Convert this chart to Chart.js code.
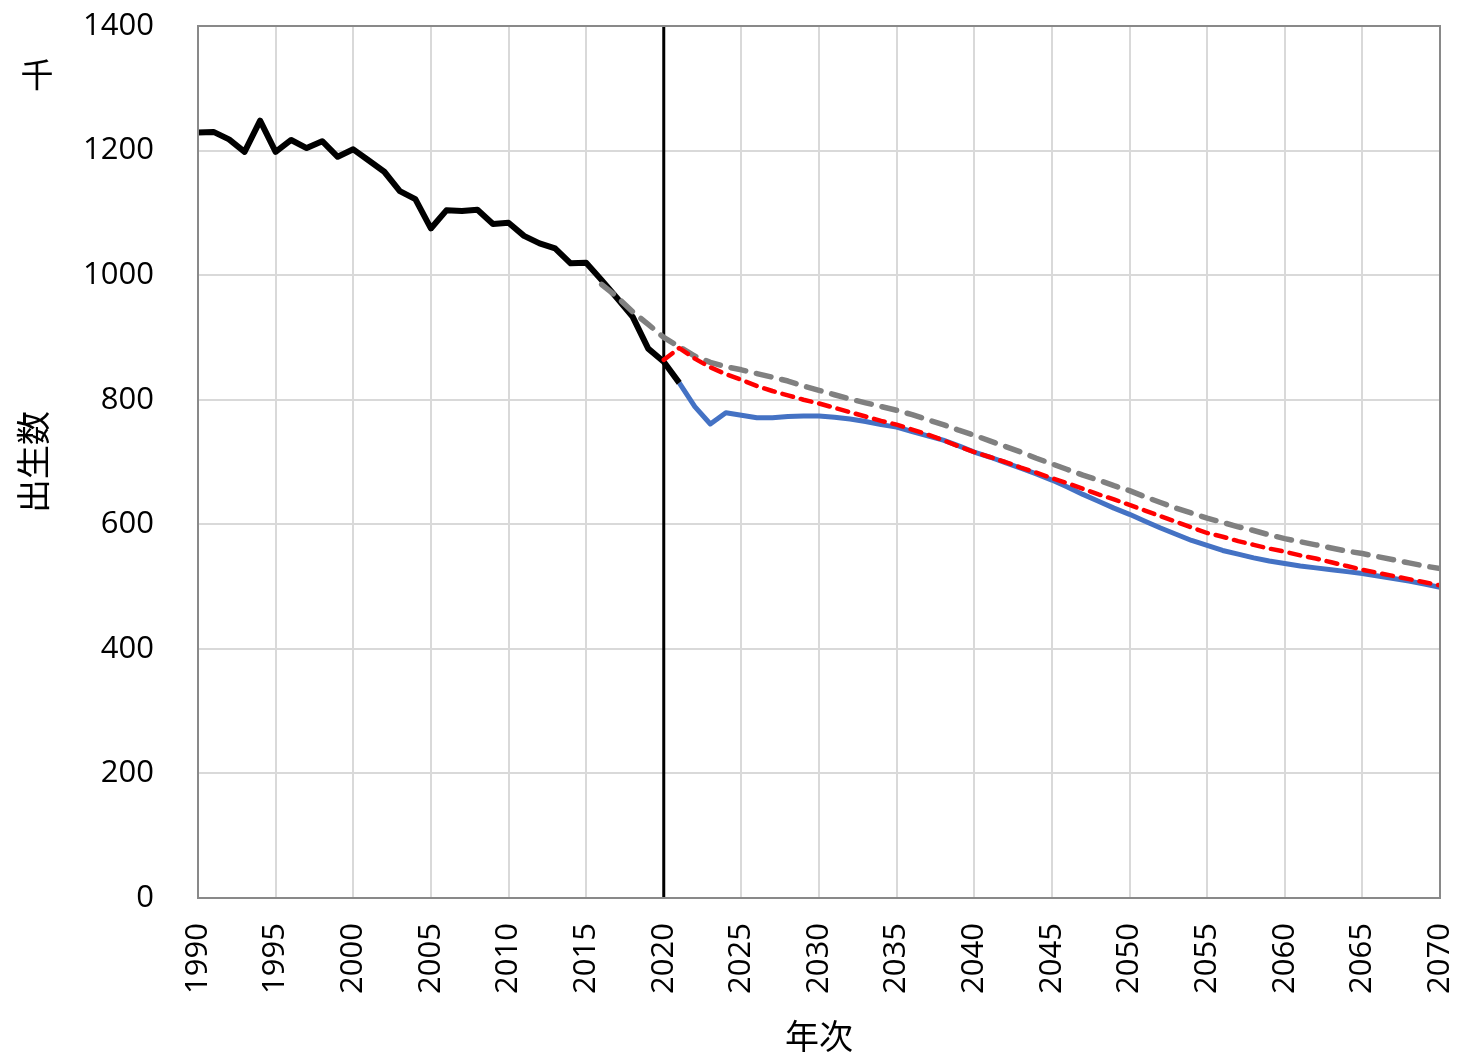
<!DOCTYPE html>
<html>
<head>
<meta charset="utf-8">
<script src="https://cdn.jsdelivr.net/npm/chart.js@4.4.1/dist/chart.umd.min.js"></script>
<style>
  html, body { margin: 0; padding: 0; background: #fff; }
  #wrap { width: 1457px; height: 1060px; }
</style>
</head>
<body>
<div id="wrap"><canvas id="chart" width="1457" height="1060"></canvas></div>
<script>
// 実績 (1990-2021), 千人
var actualStart = 1990;
var actual = [1229, 1230, 1218, 1198, 1248, 1198, 1217, 1204, 1215, 1190,
              1202, 1184, 1166, 1135, 1122, 1075, 1104, 1103, 1105, 1082,
              1084, 1063, 1051, 1043, 1019, 1020, 992, 963, 933, 882,
              861, 827];

// 推計 (灰色の破線) 2016-2070
var grayStart = 2016;
var grayProj = [985, 965, 941, 921, 900, 885, 870, 860, 853, 848,
                842, 836, 830, 822, 815, 808, 801, 795, 789, 783,
                776, 768, 760, 751, 743, 734, 725, 716, 706, 697,
                688, 679, 671, 662, 654, 644, 635, 626, 618, 610,
                603, 596, 590, 583, 577, 572, 567, 562, 557, 553,
                548, 543, 538, 533, 529];

// 推計 (赤の破線) 2020-2070
var redStart = 2020;
var redProj = [864, 883, 866, 852, 841, 832, 822, 814, 807, 800,
               794, 787, 780, 773, 766, 760, 752, 744, 735, 725,
               716, 708, 700, 691, 683, 674, 666, 657, 648, 640,
               631, 622, 613, 604, 595, 586, 580, 573, 567, 561,
               556, 550, 545, 539, 533, 527, 522, 517, 512, 507,
               502];

// 推計 (青の実線) 2021-2070
var blueStart = 2021;
var blueProj = [827, 789, 761, 779, 775, 771, 771, 773, 774, 774,
                772, 769, 765, 760, 756, 749, 742, 735, 726, 716,
                708, 699, 690, 681, 671, 660, 648, 637, 626, 616,
                605, 594, 584, 574, 566, 558, 552, 546, 541, 537,
                533, 530, 527, 524, 521, 517, 513, 509, 504, 499];

// 2020年の縦線
var markerX = [2020, 2020];
var markerY = [0, 1400];

var xMin = 1990, xMax = 2070, xStep = 5;
var yMin = 0, yMax = 1400, yStep = 200;
var yTitle = '出生数';
var xTitle = '年次';
var unitLabel = '千';

function toPoints(start, vals) {
  return vals.map(function (v, i) { return { x: start + i, y: v }; });
}

var FONT = "'Open Sans', 'Noto Sans CJK JP', sans-serif";

var extras = {
  id: 'extras',
  afterDatasetsDraw: function (chart) {
    var ctx = chart.ctx, a = chart.chartArea;
    ctx.save();
    ctx.strokeStyle = '#898989';
    ctx.lineWidth = 2;
    ctx.strokeRect(a.left, a.top, a.right - a.left, a.bottom - a.top);
    ctx.fillStyle = '#000';
    ctx.font = "33px " + FONT;
    ctx.textAlign = 'center';
    ctx.textBaseline = 'middle';
    ctx.fillText(unitLabel, 37, 78);
    ctx.restore();
  }
};

new Chart(document.getElementById('chart').getContext('2d'), {
  type: 'line',
  data: {
    datasets: [
      { data: toPoints(redStart, redProj), borderColor: '#ff0000', borderWidth: 4.5,
        borderDash: [11, 8], borderCapStyle: 'round' },
      { data: toPoints(grayStart, grayProj), borderColor: '#808080', borderWidth: 5.5,
        borderDash: [15, 11], borderCapStyle: 'round' },
      { data: toPoints(actualStart, actual), borderColor: '#000000', borderWidth: 6 },
      { data: toPoints(blueStart, blueProj), borderColor: '#4472c4', borderWidth: 5 },
      { data: markerX.map(function (x, i) { return { x: x, y: markerY[i] }; }),
        borderColor: '#000000', borderWidth: 3 }
    ]
  },
  options: {
    responsive: false,
    animation: false,
    events: [],
    layout: { autoPadding: false, padding: { top: 26, right: 17, left: 0, bottom: 0 } },
    elements: { point: { radius: 0 }, line: { tension: 0, fill: false, borderJoinStyle: 'round' } },
    plugins: { legend: { display: false }, tooltip: { enabled: false } },
    scales: {
      x: {
        type: 'linear', min: xMin, max: xMax,
        afterFit: function (s) { s.height = 162; s.paddingLeft = 0; s.paddingRight = 0; },
        grid: { color: '#d9d9d9', lineWidth: 2, drawTicks: false },
        border: { display: false },
        ticks: { stepSize: xStep, minRotation: 90, maxRotation: 90, padding: 25,
                 color: '#000', font: { family: FONT, size: 31 },
                 callback: function (v) { return String(v); } },
        title: { display: true, text: xTitle, color: '#000',
                 font: { family: FONT, size: 34 }, padding: { top: 0, bottom: 0 } }
      },
      y: {
        min: yMin, max: yMax,
        afterFit: function (s) { s.width = 198; s.paddingTop = 0; s.paddingBottom = 0; },
        grid: { color: '#d9d9d9', lineWidth: 2, drawTicks: false },
        border: { display: false },
        ticks: { stepSize: yStep, padding: 44, color: '#000',
                 font: { family: FONT, size: 31 },
                 callback: function (v) { return String(v); } },
        title: { display: true, text: yTitle, color: '#000',
                 font: { family: FONT, size: 34 }, padding: { top: 16, bottom: 0 } }
      }
    }
  },
  plugins: [extras]
});
</script>
</body>
</html>
